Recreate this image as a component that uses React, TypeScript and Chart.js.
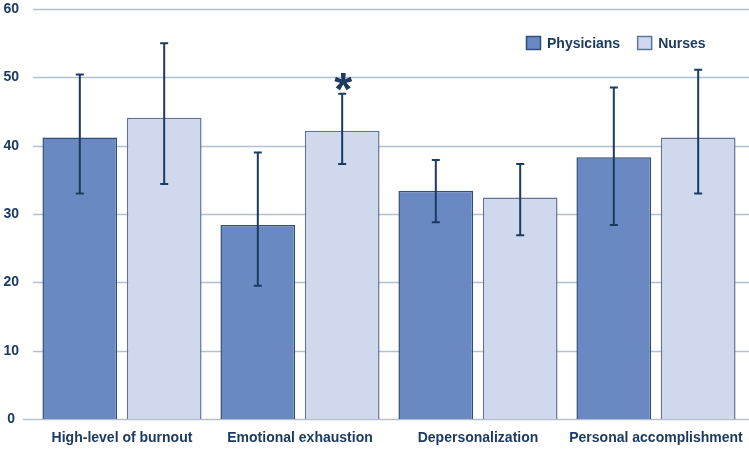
import { useEffect, useRef } from "react";
import { Chart, registerables } from "chart.js";

Chart.register(...registerables);

const categories = [
  "High-level of burnout",
  "Emotional exhaustion",
  "Depersonalization",
  "Personal accomplishment",
];
const physicians = [41.2, 28.4, 33.4, 38.3];
const physiciansLow = [33.0, 19.5, 28.8, 28.4];
const physiciansHigh = [50.4, 39.0, 37.9, 48.5];
const nurses = [44.1, 42.2, 32.4, 41.2];
const nursesLow = [34.4, 37.3, 26.9, 33.0];
const nursesHigh = [55.0, 47.6, 37.3, 51.1];
const nursesMarks = ["", "*", "", ""];
const yTicks = [0, 10, 20, 30, 40, 50, 60];

const NAVY = "#1d3b61";
const GRID = "#b3bfce";
const FONT = "'Liberation Sans', Arial, sans-serif";

export default function App() {
  const ref = useRef<HTMLCanvasElement>(null);

  useEffect(() => {
    if (!ref.current) return;
    const lows = [physiciansLow, nursesLow];
    const highs = [physiciansHigh, nursesHigh];

    const gridPlugin = {
      id: "customGrid",
      beforeDatasetsDraw(chart: any) {
        const { ctx, chartArea, scales } = chart;
        ctx.save();
        ctx.strokeStyle = GRID;
        ctx.lineWidth = 1.5;
        yTicks.forEach((v) => {
          const y = Math.round(scales.y.getPixelForValue(v)) + 0.5;
          ctx.beginPath();
          ctx.moveTo(v === 0 ? chartArea.left - 10 : chartArea.left, y);
          ctx.lineTo(chart.width, y);
          ctx.stroke();
        });
        ctx.restore();
      },
    };

    const errorPlugin = {
      id: "errorBars",
      afterDatasetsDraw(chart: any) {
        const { ctx, scales } = chart;
        ctx.save();
        ctx.strokeStyle = NAVY;
        ctx.lineWidth = 2;
        chart.data.datasets.forEach((_ds: any, i: number) => {
          const meta = chart.getDatasetMeta(i);
          meta.data.forEach((el: any, j: number) => {
            const x = el.x;
            const yh = scales.y.getPixelForValue(highs[i][j]);
            const yl = scales.y.getPixelForValue(lows[i][j]);
            ctx.beginPath();
            ctx.moveTo(x, yh);
            ctx.lineTo(x, yl);
            ctx.moveTo(x - 4, yh);
            ctx.lineTo(x + 4, yh);
            ctx.moveTo(x - 4, yl);
            ctx.lineTo(x + 4, yl);
            ctx.stroke();
          });
        });
        // significance marks
        const meta = chart.getDatasetMeta(1);
        ctx.fillStyle = NAVY;
        ctx.font = `bold 46px ${FONT}`;
        ctx.textAlign = "center";
        ctx.textBaseline = "alphabetic";
        meta.data.forEach((el: any, j: number) => {
          if (!nursesMarks[j]) return;
          const yh = scales.y.getPixelForValue(nursesHigh[j]);
          ctx.fillText(nursesMarks[j], el.x + 1, yh - 15 + 0.58 * 46);
        });
        ctx.restore();
      },
    };

    const legendPlugin = {
      id: "customLegend",
      afterDraw(chart: any) {
        const { ctx, chartArea } = chart;
        ctx.save();
        ctx.font = `bold 14px ${FONT}`;
        ctx.textBaseline = "middle";
        ctx.textAlign = "left";
        let x = chartArea.right - 219;
        const y = 43;
        chart.data.datasets.forEach((ds: any) => {
          ctx.fillStyle = ds.backgroundColor;
          ctx.fillRect(x, y - 7, 15, 14);
          ctx.strokeStyle = ds.borderColor;
          ctx.lineWidth = 1.5;
          ctx.strokeRect(x + 0.5, y - 6.5, 14, 13);
          ctx.fillStyle = NAVY;
          ctx.fillText(ds.label, x + 21, y + 1);
          x += 21 + ctx.measureText(ds.label).width + 17;
        });
        ctx.restore();
      },
    };

    const chart = new Chart(ref.current, {
      type: "bar",
      data: {
        labels: categories,
        datasets: [
          {
            label: "Physicians",
            data: physicians,
            backgroundColor: "#6a89c3",
            borderColor: "#2f4e7a",
            borderWidth: 1.5,
          },
          {
            label: "Nurses",
            data: nurses,
            backgroundColor: "#d0d8ee",
            borderColor: "#5f7598",
            borderWidth: 1.5,
          },
        ],
      },
      options: {
        animation: false,
        responsive: true,
        maintainAspectRatio: false,
        layout: { padding: { top: 9, right: 4, left: 0, bottom: 0 } },
        datasets: {
          bar: { categoryPercentage: 0.948, barPercentage: 0.886 },
        },
        plugins: {
          legend: { display: false },
          tooltip: { enabled: false },
        },
        scales: {
          x: {
            grid: { display: false, drawTicks: false },
            border: { display: false },
            ticks: {
              padding: 11,
              color: NAVY,
              font: { family: FONT, size: 14, weight: "bold" },
              maxRotation: 0,
              autoSkip: false,
            },
            afterFit(scale: any) {
              scale.height = 30;
              scale.paddingLeft = 0;
              scale.paddingRight = 0;
            },
          },
          y: {
            min: 0,
            max: 60,
            grid: { display: false, drawTicks: false },
            border: { display: false },
            ticks: {
              stepSize: 10,
              padding: 14,
              crossAlign: "center",
              color: NAVY,
              font: { family: FONT, size: 14, weight: "bold" },
            },
            afterFit(scale: any) {
              scale.width = 33;
              scale.paddingTop = 0;
              scale.paddingBottom = 0;
            },
          },
        },
      },
      plugins: [gridPlugin, errorPlugin, legendPlugin],
    } as any);

    return () => chart.destroy();
  }, []);

  return (
    <div style={{ position: "fixed", left: 0, top: 0, width: 749, height: 449, background: "#fff" }}>
      <canvas ref={ref} />
    </div>
  );
}
